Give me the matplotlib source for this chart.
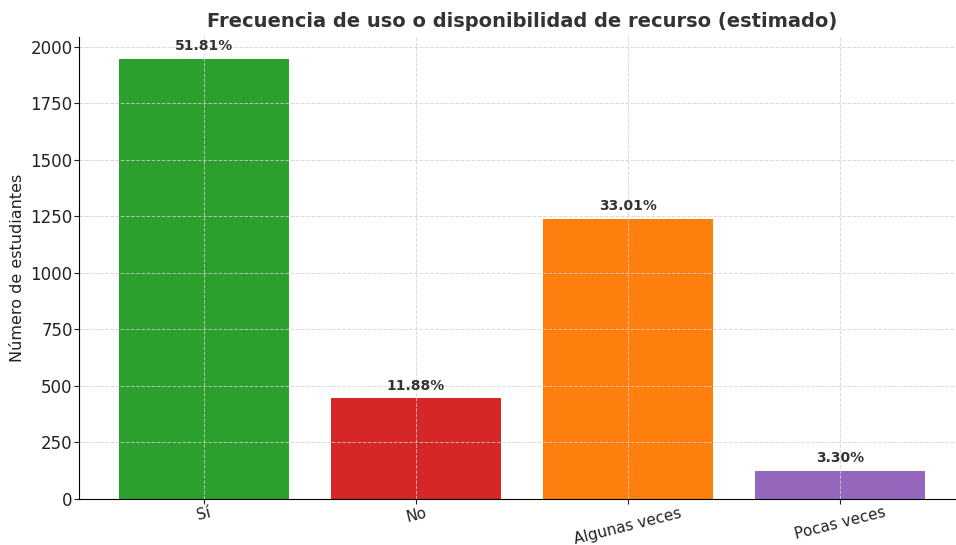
import matplotlib
matplotlib.use("Agg")
import matplotlib.pyplot as plt

# Data
categories = ["Sí", "No", "Algunas veces", "Pocas veces"]
counts = [1946, 446, 1240, 124]
percent_labels = ["51.81%", "11.88%", "33.01%", "3.30%"]
colors = ["#2ca02c", "#d62728", "#ff7f0e", "#9467bd"]

fig = plt.figure(figsize=(9.56, 5.45), dpi=100)
# axes runs past the right edge, as in the (cropped) original
ax = fig.add_axes([79 / 956, 46 / 545, 886 / 956, 462 / 545])

bars = ax.bar(categories, counts, color=colors, width=0.8)

for bar, lab in zip(bars, percent_labels):
    ax.annotate(lab, (bar.get_x() + bar.get_width() / 2, bar.get_height()),
                xytext=(0, 4), textcoords="offset points",
                ha="center", va="bottom", fontsize=10, fontweight="bold", color="#333333")

ax.set_title("Frecuencia de uso o disponibilidad de recurso (estimado)",
             fontsize=14, fontweight="bold", color="#333333", pad=7)
ax.set_ylabel("Número de estudiantes", fontsize=11.5, color="#222222")
ax.tick_params(axis="both", labelsize=12, colors="#222222")
ax.tick_params(axis="y", pad=1)
ax.tick_params(axis="x", labelsize=11, pad=1)
plt.setp(ax.get_xticklabels(), rotation=14)

ax.grid(True, linestyle="--", color="#d0d0d0", alpha=0.8, linewidth=0.7)
ax.spines["top"].set_visible(False)
ax.spines["right"].set_visible(False)

fig.savefig("out.png", dpi=100)
